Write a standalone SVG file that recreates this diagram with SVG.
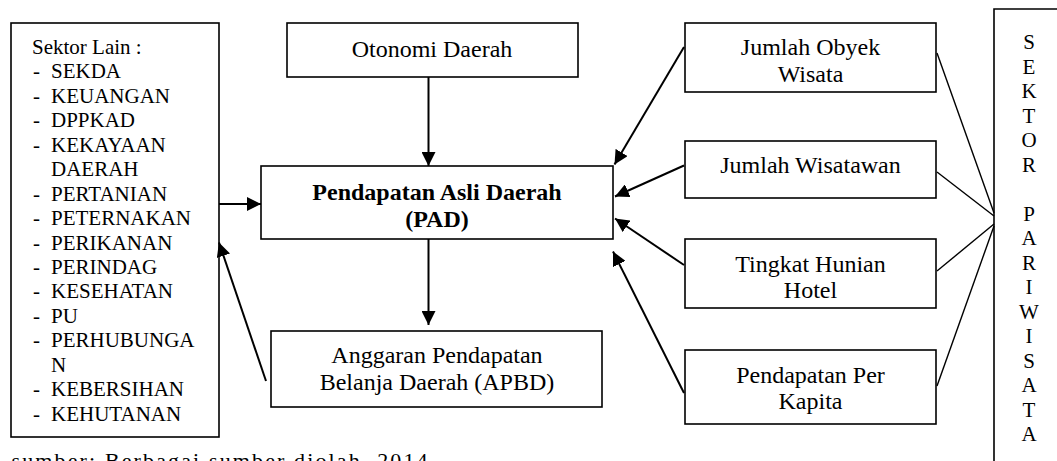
<svg xmlns="http://www.w3.org/2000/svg" width="1057" height="461" viewBox="0 0 1057 461">
<style>
.box{fill:#fff;stroke:#000;stroke-width:1.6}
.arr{stroke:#000;stroke-width:2;fill:none;marker-end:url(#ah)}
.ln{stroke:#000;stroke-width:1.4;fill:none}
</style>
<defs>
<marker id="ah" markerUnits="userSpaceOnUse" markerWidth="14" markerHeight="14" refX="14" refY="7" orient="auto">
<path d="M0,0 L14,7 L0,14 z" fill="#000"/>
</marker>
</defs>
<rect width="1057" height="461" fill="#fff"/>

<g font-family="'Liberation Serif', 'Times New Roman', serif" font-size="24" fill="#000">

<g id="sektor-lain" font-size="21">
<rect class="box" x="11" y="23" width="208" height="414"/>
<text x="32" y="53.9">Sektor Lain :</text>
<text x="33" y="78.4">-</text><text x="51" y="78.4">SEKDA</text>
<text x="33" y="102.8">-</text><text x="51" y="102.8">KEUANGAN</text>
<text x="33" y="127.3">-</text><text x="51" y="127.3">DPPKAD</text>
<text x="33" y="151.7">-</text><text x="51" y="151.7">KEKAYAAN</text>
<text x="51" y="176.2">DAERAH</text>
<text x="33" y="200.6">-</text><text x="51" y="200.6">PERTANIAN</text>
<text x="33" y="225.1">-</text><text x="51" y="225.1">PETERNAKAN</text>
<text x="33" y="249.5">-</text><text x="51" y="249.5">PERIKANAN</text>
<text x="33" y="274">-</text><text x="51" y="274">PERINDAG</text>
<text x="33" y="298.4">-</text><text x="51" y="298.4">KESEHATAN</text>
<text x="33" y="322.9">-</text><text x="51" y="322.9">PU</text>
<text x="33" y="347.3">-</text><text x="51" y="347.3">PERHUBUNGA</text>
<text x="51" y="371.8">N</text>
<text x="33" y="396.2">-</text><text x="51" y="396.2">KEBERSIHAN</text>
<text x="33" y="420.6">-</text><text x="51" y="420.6">KEHUTANAN</text>
</g>

<g id="otonomi" text-anchor="middle">
<rect class="box" x="287" y="23" width="291" height="54"/>
<text x="432" y="57">Otonomi Daerah</text>
</g>

<g id="pad" text-anchor="middle" font-weight="bold">
<rect class="box" x="261" y="166" width="352" height="73"/>
<text x="437" y="199.5">Pendapatan Asli Daerah</text>
<text x="437" y="227">(PAD)</text>
</g>

<g id="apbd" text-anchor="middle">
<rect class="box" x="271" y="331" width="331" height="76"/>
<text x="437" y="363.3">Anggaran Pendapatan</text>
<text x="437" y="390">Belanja Daerah (APBD)</text>
</g>

<g id="obyek" text-anchor="middle">
<rect class="box" x="685" y="23" width="251" height="69"/>
<text x="810.5" y="55">Jumlah Obyek</text>
<text x="810.5" y="81.7">Wisata</text>
</g>

<g id="wisatawan" text-anchor="middle">
<rect class="box" x="685" y="141" width="251" height="57"/>
<text x="810.5" y="173.3">Jumlah Wisatawan</text>
</g>

<g id="hunian" text-anchor="middle">
<rect class="box" x="685" y="239" width="251" height="69"/>
<text x="810.5" y="271.7">Tingkat Hunian</text>
<text x="810.5" y="298.3">Hotel</text>
</g>

<g id="kapita" text-anchor="middle">
<rect class="box" x="685" y="350" width="251" height="74"/>
<text x="810.5" y="382.7">Pendapatan Per</text>
<text x="810.5" y="409.3">Kapita</text>
</g>

<g id="pariwisata" text-anchor="middle" font-size="21">
<path d="M994,465 V9 H1060" class="box" fill="none"/>
<text x="1029" y="49">S</text>
<text x="1029" y="73.5">E</text>
<text x="1029" y="98">K</text>
<text x="1029" y="122.5">T</text>
<text x="1029" y="147">O</text>
<text x="1029" y="171.5">R</text>
<text x="1029" y="220.5">P</text>
<text x="1029" y="245">A</text>
<text x="1029" y="269.5">R</text>
<text x="1029" y="294">I</text>
<text x="1029" y="318.5">W</text>
<text x="1029" y="343">I</text>
<text x="1029" y="367.5">S</text>
<text x="1029" y="392">A</text>
<text x="1029" y="416.5">T</text>
<text x="1029" y="441">A</text>
</g>

<text id="sumber" x="11.5" y="468" font-size="22" textLength="416" lengthAdjust="spacing">sumber: Berbagai sumber diolah, 2014</text>
</g>

<g id="connectors">
<line class="arr" x1="428.5" y1="77" x2="428.5" y2="166"/>
<line class="arr" x1="428.5" y1="239" x2="428.5" y2="325"/>
<line class="arr" x1="219" y1="204" x2="261" y2="204"/>
<line class="arr" x1="266" y1="381" x2="219" y2="242.5"/>
<line class="arr" x1="684" y1="47" x2="614.5" y2="164.5"/>
<line class="arr" x1="684" y1="165.5" x2="615" y2="196.5"/>
<line class="arr" x1="684" y1="265" x2="615" y2="218.5"/>
<line class="arr" x1="684" y1="393" x2="613" y2="251.5"/>
<line class="ln" x1="937" y1="53" x2="994" y2="213"/>
<line class="ln" x1="937" y1="172" x2="994" y2="216"/>
<line class="ln" x1="937" y1="271" x2="994" y2="224"/>
<line class="ln" x1="937" y1="386" x2="994" y2="226"/>
</g>
</svg>
